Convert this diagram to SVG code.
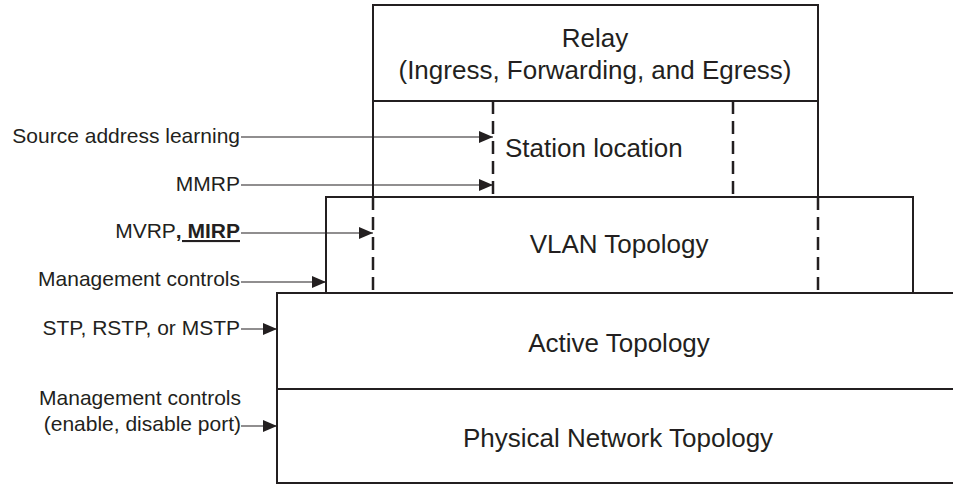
<svg xmlns="http://www.w3.org/2000/svg" width="953" height="485" viewBox="0 0 953 485">
<style>
.box{fill:none;stroke:#231f20;stroke-width:2}
.dash{fill:none;stroke:#231f20;stroke-width:2.5;stroke-dasharray:13,7}
.lbl{font-family:"Liberation Sans",Arial,sans-serif;font-size:26px;fill:#231f20}
.side{font-family:"Liberation Sans",Arial,sans-serif;font-size:21px;fill:#231f20;text-anchor:end}
.conn{stroke:#231f20;stroke-width:1.2;fill:none;marker-end:url(#arr)}
</style>
<defs>
<marker id="arr" viewBox="0 0 14 12" refX="14" refY="6" markerWidth="14" markerHeight="12" markerUnits="userSpaceOnUse" orient="auto">
<path d="M0,0 L14,6 L0,12 Z" fill="#231f20"/>
</marker>
</defs>
<g id="relay">
<path class="box" d="M373,197 V5 H818 V197 M373,101 H818"/>
<text class="lbl" x="595" y="47" text-anchor="middle">Relay</text>
<text class="lbl" x="595" y="79" text-anchor="middle">(Ingress, Forwarding, and Egress)</text>
</g>
<g id="station">
<path class="dash" d="M493,101 V197 M733,101 V197"/>
<text class="lbl" x="505" y="157">Station location</text>
</g>
<g id="vlan">
<rect class="box" x="326" y="197" width="587" height="96"/>
<path class="dash" d="M373,197 V293 M818,197 V293"/>
<text class="lbl" x="619" y="253" text-anchor="middle">VLAN Topology</text>
</g>
<g id="active">
<path class="box" d="M953,293 H277 V389 H953"/>
<text class="lbl" x="619" y="352" text-anchor="middle">Active Topology</text>
</g>
<g id="physical">
<path class="box" d="M277,389 V483 H953"/>
<text class="lbl" x="618" y="447" text-anchor="middle">Physical Network Topology</text>
</g>
<g id="labels">
<text class="side" x="240" y="143">Source address learning</text>
<text class="side" x="240" y="191">MMRP</text>
<text class="side" x="240" y="238">MVRP<tspan font-weight="bold" text-decoration="underline">, MIRP</tspan></text>
<text class="side" x="240" y="286">Management controls</text>
<text class="side" x="240" y="335">STP, RSTP, or MSTP</text>
<text class="side" x="241" y="405">Management controls</text>
<text class="side" x="241" y="431">(enable, disable port)</text>
</g>
<g id="connectors">
<line class="conn" x1="241" y1="137" x2="493" y2="137"/>
<line class="conn" x1="241" y1="185" x2="493" y2="185"/>
<line class="conn" x1="241" y1="233" x2="373" y2="233"/>
<line class="conn" x1="241" y1="282" x2="326" y2="282"/>
<line class="conn" x1="241" y1="329" x2="277" y2="329"/>
<line class="conn" x1="241" y1="426" x2="277" y2="426"/>
</g>
</svg>
